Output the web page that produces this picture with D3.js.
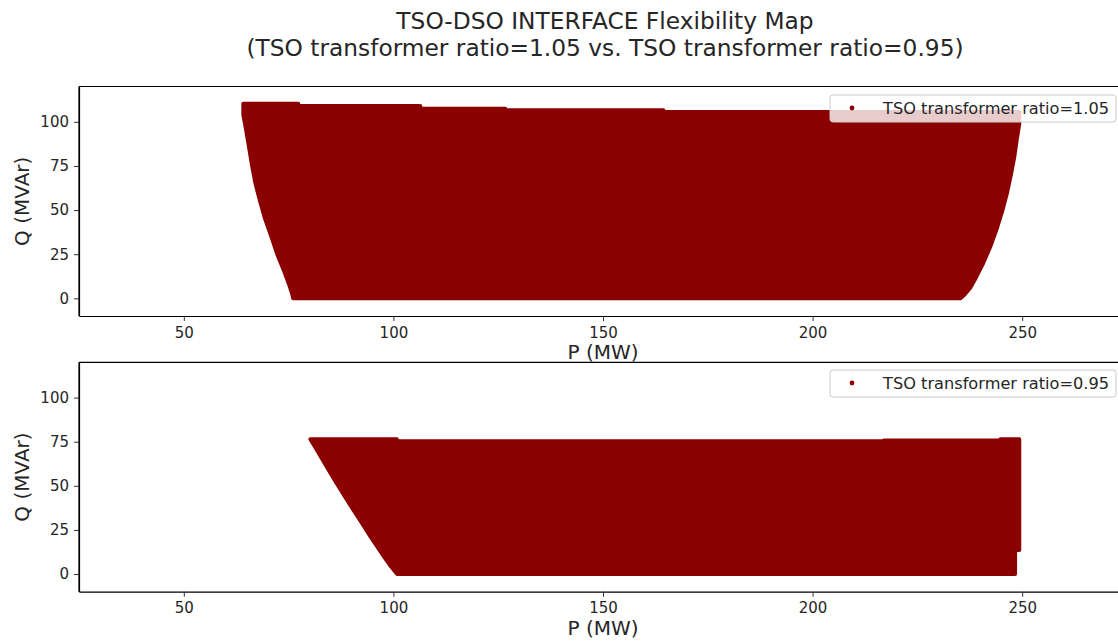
<!DOCTYPE html>
<html><head><meta charset="utf-8">
<script src="https://cdn.jsdelivr.net/npm/d3@7"></script>
<style>body{margin:0;background:#fff;} svg{display:block;font-family:"DejaVu Sans",sans-serif;}</style>
</head><body><svg id="c" width="1118" height="642"></svg>
<script>
const titleLines = ["TSO-DSO INTERFACE Flexibility Map", "(TSO transformer ratio=1.05 vs. TSO transformer ratio=0.95)"];
const seriesNames = ["TSO transformer ratio=1.05", "TSO transformer ratio=0.95"];
const xTicks = [50, 100, 150, 200, 250];
const yTicks = [0, 25, 50, 75, 100];
const xLabel = "P (MW)";
const yLabel = "Q (MVAr)";

// Boundary of the scatter cloud (marker centres), ratio = 1.05
const p105 = [64.2, 77.3, 77.3, 106.4, 106.4, 126.7, 126.7, 164.4, 164.4, 249.3,
  249.3, 248.7, 248.1, 247.3, 246.4, 245.3, 244.0, 242.5, 240.7, 239.0, 237.6, 236.2, 235.2,
  76.1, 75.8, 75.1, 74.0, 72.3, 70.9, 69.4, 68.2, 67.1, 66.3, 65.6, 64.9, 64.2];
const q105 = [110.2, 110.2, 108.9, 108.9, 107.4, 107.4, 106.5, 106.5, 105.5, 105.5,
  99.0, 90.0, 80.0, 70.0, 60.0, 50.0, 40.0, 30.0, 20.0, 12.0, 6.0, 2.0, 0,
  0, 3.0, 8.0, 15.0, 25.0, 35.0, 45.0, 55.0, 65.0, 75.0, 85.0, 95.0, 104.0];

// Boundary of the scatter cloud (marker centres), ratio = 0.95
const p095 = [80.2, 100.8, 100.8, 217.0, 217.0, 244.8, 244.8, 249.3,
  249.3, 248.3, 248.3,
  100.9, 99.5, 97.8, 96.2, 94.6, 92.6, 90.5, 88.5, 86.5, 84.6, 82.7, 81.3];
const q095 = [76.4, 76.4, 75.2, 75.2, 75.7, 75.7, 76.4, 76.4,
  13.7, 13.7, 0,
  0, 4.1, 9.8, 15.4, 21.1, 28.6, 36.2, 43.7, 51.3, 58.9, 66.5, 72.1];

const color = "#8b0000";
const textColor = "#262626";
const svg = d3.select("#c");

const X0 = 79, X1 = 1127;
const panels = [
  {P: p105, Q: q105, name: seriesNames[0], top: 86.5, bottom: 316, xlab: 352, legY: 95},
  {P: p095, Q: q095, name: seriesNames[1], top: 362.3, bottom: 591.7, xlab: 628, legY: 370}
];

svg.selectAll("text.title").data(titleLines).join("text")
  .attr("class", "title")
  .attr("x", 605).attr("y", (d, i) => 29 + i * 27)
  .attr("text-anchor", "middle").attr("font-size", "23.3px").attr("fill", textColor)
  .text(d => d);

panels.forEach((pn, k) => {
  const x = d3.scaleLinear().domain([25, 275]).range([X0, X1]);
  const y = d3.scaleLinear().domain([-10, 120]).range([pn.bottom, pn.top]);
  const g = svg.append("g");
  const cid = "clip" + k;
  svg.append("clipPath").attr("id", cid).append("rect")
    .attr("x", X0).attr("y", pn.top).attr("width", X1 - X0).attr("height", pn.bottom - pn.top);

  const pts = pn.P.map((p, i) => [p, pn.Q[i]]);
  g.append("path")
    .attr("clip-path", `url(#${cid})`)
    .attr("d", d3.line().x(d => x(d[0])).y(d => y(d[1])).curve(d3.curveLinearClosed)(pts))
    .attr("fill", color).attr("stroke", color).attr("stroke-width", 4).attr("stroke-linejoin", "round");

  const xa = g.append("g").attr("transform", `translate(0,${pn.bottom})`)
    .call(d3.axisBottom(x).tickValues(xTicks).tickSize(5).tickPadding(6).tickSizeOuter(0));
  const ya = g.append("g").attr("transform", `translate(${X0},0)`)
    .call(d3.axisLeft(y).tickValues(yTicks).tickSize(5).tickPadding(5).tickSizeOuter(0));
  [xa, ya].forEach(a => {
    a.select(".domain").attr("stroke", "#000").attr("stroke-width", 1.2);
    a.selectAll(".tick line").attr("stroke", "#333").attr("stroke-width", 1);
    a.selectAll(".tick text").attr("font-size", "15px").attr("fill", textColor)
      .attr("font-family", "DejaVu Sans");
  });
  g.append("line").attr("x1", X0).attr("x2", X1).attr("y1", pn.top).attr("y2", pn.top)
    .attr("stroke", "#000").attr("stroke-width", 1.2);
  g.append("line").attr("x1", X0).attr("x2", X0).attr("y1", pn.top).attr("y2", pn.bottom)
    .attr("stroke", "#000").attr("stroke-width", 1.2);

  g.append("text").attr("x", 603).attr("y", pn.xlab).attr("dy", "0.35em")
    .attr("text-anchor", "middle").attr("font-size", "20px").attr("fill", textColor).text(xLabel);
  g.append("text").attr("transform", `translate(22,${(pn.top + pn.bottom) / 2}) rotate(-90)`)
    .attr("dy", "0.35em").attr("text-anchor", "middle").attr("font-size", "20px").attr("fill", textColor).text(yLabel);

  const lg = g.append("g");
  lg.append("rect").attr("x", 830).attr("y", pn.legY).attr("width", 286).attr("height", 27).attr("rx", 3)
    .attr("fill", "#fff").attr("fill-opacity", 0.8).attr("stroke", "#cccccc").attr("stroke-width", 1);
  lg.append("circle").attr("cx", 852).attr("cy", pn.legY + 13).attr("r", 2.4).attr("fill", color);
  lg.append("text").attr("x", 883).attr("y", pn.legY + 13).attr("dy", "0.35em")
    .attr("font-size", "16.2px").attr("fill", textColor).text(pn.name);
});
</script></body></html>
